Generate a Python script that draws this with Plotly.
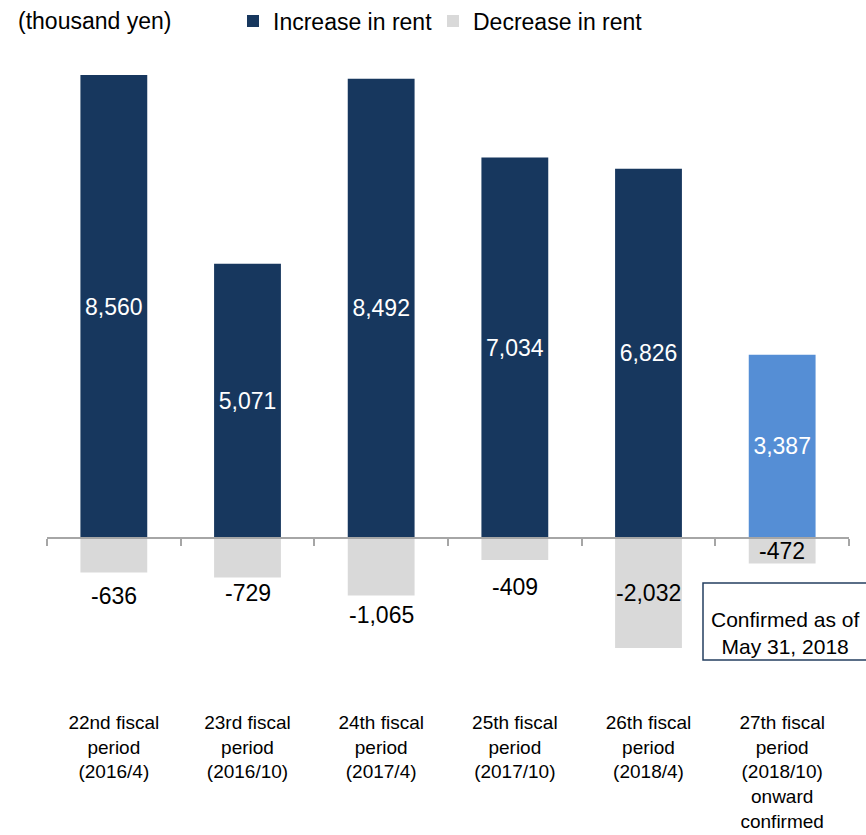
import plotly.graph_objects as go

# Rent revision amounts per fiscal period (thousand yen)
categories = [
    "22nd fiscal<br>period<br>(2016/4)",
    "23rd fiscal<br>period<br>(2016/10)",
    "24th fiscal<br>period<br>(2017/4)",
    "25th fiscal<br>period<br>(2017/10)",
    "26th fiscal<br>period<br>(2018/4)",
    "27th fiscal<br>period<br>(2018/10)<br>onward<br>confirmed",
]
increase = [8560, 5071, 8492, 7034, 6826, 3387]
decrease = [-636, -729, -1065, -409, -2032, -472]

# Label placement for the decrease values: pixel drop below the bar end,
# or None to centre the label inside the bar
decrease_label_drop = [24, 16, 19, 27, None, None]

NAVY = "#17375E"
LIGHT_BLUE = "#558ED5"
GRAY = "#D9D9D9"
AXIS_GRAY = "#A6A6A6"
FONT = "Liberation Sans, Arial, sans-serif"

W, H = 866, 835
M_L, M_R, M_T, M_B = 47, 17, 60, 135
plot_h = H - M_T - M_B
pw = W - M_L - M_R
zero_px = 538
px_per_unit = (zero_px - 75) / max(increase)
y_top = (zero_px - M_T) / px_per_unit
y_bot = -(M_T + plot_h - zero_px) / px_per_unit

x = list(range(len(categories)))
inc_colors = [NAVY] * (len(increase) - 1) + [LIGHT_BLUE]

fig = go.Figure()
fig.add_trace(go.Bar(
    x=x, y=increase, name="Increase in rent",
    marker=dict(color=inc_colors, line=dict(width=0)),
    width=0.5,
    text=[f"{v:,}" for v in increase],
    textposition="inside", insidetextanchor="middle", textangle=0,
    constraintext="none",
    textfont=dict(color="white", size=23, family=FONT),
    legend="legend",
))
fig.add_trace(go.Bar(
    x=x, y=decrease, name="Decrease in rent",
    marker=dict(color=GRAY, line=dict(width=0)),
    width=0.5,
    legend="legend2",
))
# Carrier trace so the zero-line axis with boundary ticks is drawn
fig.add_trace(go.Scatter(
    x=[0], y=[0], xaxis="x2", mode="markers",
    marker=dict(opacity=0), showlegend=False, hoverinfo="skip",
))

for xi, v, drop in zip(x, decrease, decrease_label_drop):
    if drop is None:
        fig.add_annotation(x=xi, y=v / 2, text=f"{v:,}", showarrow=False,
                           yanchor="middle", font=dict(size=23, color="black", family=FONT))
    else:
        fig.add_annotation(x=xi, y=v, text=f"{v:,}", showarrow=False,
                           yanchor="middle", yshift=-drop,
                           font=dict(size=23, color="black", family=FONT))

# Unit label
fig.add_annotation(xref="paper", yref="paper", x=(16 - M_L) / pw,
                   y=(M_T + plot_h - 21) / plot_h, xanchor="left", yanchor="middle",
                   text="(thousand yen)", showarrow=False,
                   font=dict(size=23, color="black", family=FONT))

# Callout box for the latest period
fig.add_shape(type="rect", xref="paper", yref="paper",
              x0=(703 - M_L) / pw, x1=(873 - M_L) / pw,
              y0=(M_T + plot_h - 660) / plot_h, y1=(M_T + plot_h - 583) / plot_h,
              line=dict(color="#243F60", width=1.5), fillcolor="white", layer="above")
fig.add_annotation(xref="paper", yref="paper", x=(785 - M_L) / pw,
                   y=(M_T + plot_h - 633) / plot_h, xanchor="center", yanchor="middle",
                   text="Confirmed as of<br>May 31, 2018", showarrow=False,
                   font=dict(size=21, color="black", family=FONT))

legend_style = dict(orientation="h", xref="container", yref="container",
                    xanchor="left", yanchor="middle", y=1 - 21 / H,
                    font=dict(size=23, family=FONT, color="black"),
                    bgcolor="rgba(0,0,0,0)", borderwidth=0)

fig.update_layout(
    width=W, height=H,
    margin=dict(l=M_L, r=M_R, t=M_T, b=M_B, autoexpand=False),
    paper_bgcolor="white", plot_bgcolor="white",
    barmode="relative",
    font=dict(family=FONT, color="black"),
    showlegend=True,
    legend=dict(x=233 / W, **legend_style),
    legend2=dict(x=433 / W, **legend_style),
    xaxis=dict(range=[-0.5, len(categories) - 0.5], tickmode="array",
               tickvals=x, ticktext=categories, showline=False, ticks="",
               showgrid=False, zeroline=False, automargin=False,
               ticklabelstandoff=9,
               tickfont=dict(size=19, family=FONT, color="black")),
    xaxis2=dict(overlaying="x", anchor="free",
                position=(M_T + plot_h - zero_px) / plot_h,
                range=[-0.5, len(categories) - 0.5], tickmode="array",
                tickvals=[i - 0.5 for i in range(len(categories) + 1)],
                ticks="outside", ticklen=7, tickwidth=1.5, tickcolor=AXIS_GRAY,
                showline=True, linecolor=AXIS_GRAY, linewidth=1.5,
                showticklabels=False, showgrid=False, zeroline=False,
                automargin=False),
    yaxis=dict(range=[y_bot, y_top], visible=False, showgrid=False,
               zeroline=False, automargin=False),
)

fig.write_html("out.html")
